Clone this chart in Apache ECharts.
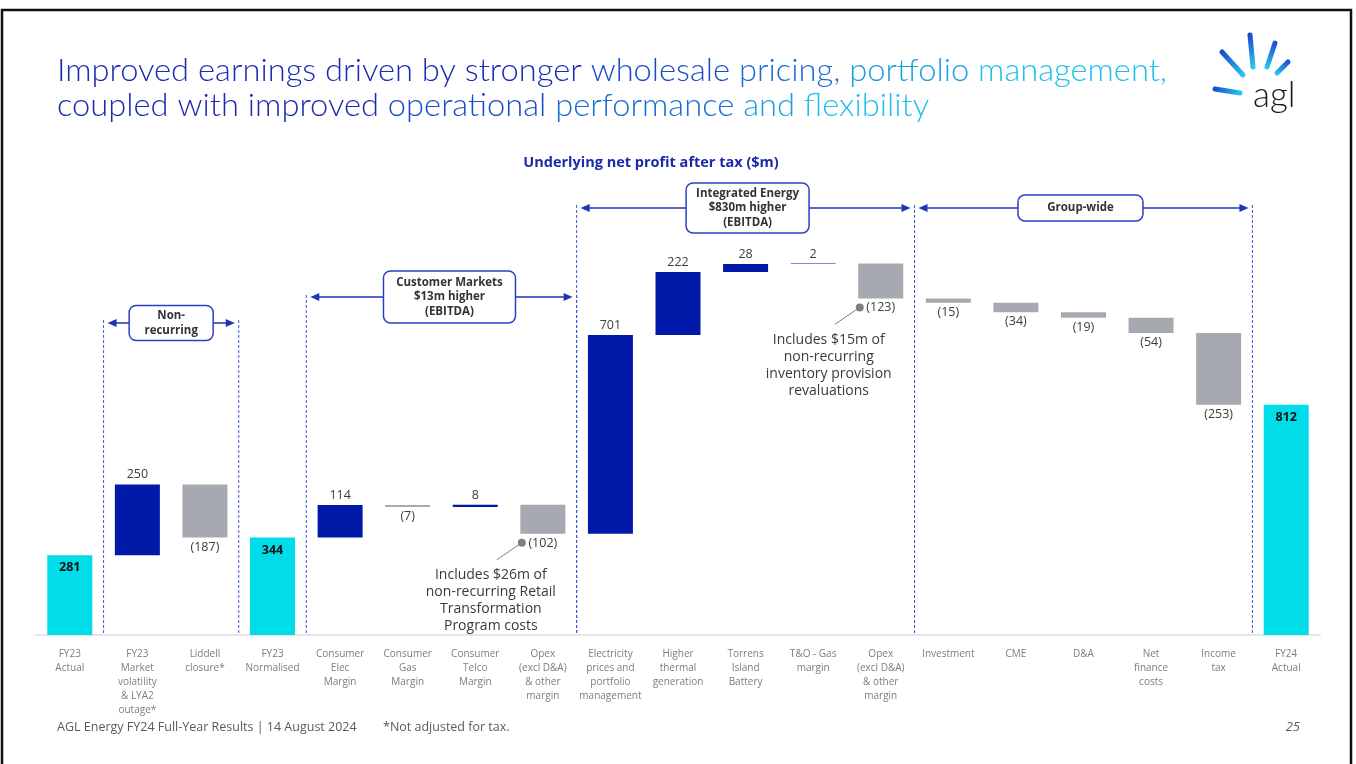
<!DOCTYPE html>
<html>
<head>
<meta charset="utf-8">
<title>AGL underlying NPAT waterfall</title>
<script src="https://cdn.jsdelivr.net/npm/echarts@6/dist/echarts.min.js"></script>
<style>
  html, body { margin: 0; padding: 0; background: #fff; }
  #chart { width: 1356px; height: 764px; }
</style>
</head>
<body>
<div id="chart"></div>
<script>
// categories along the x axis
const categories = [
  "FY23\nActual",
  "FY23\nMarket\nvolatility\n& LYA2\noutage*",
  "Liddell\nclosure*",
  "FY23\nNormalised",
  "Consumer\nElec\nMargin",
  "Consumer\nGas\nMargin",
  "Consumer\nTelco\nMargin",
  "Opex\n(excl D&A)\n& other\nmargin",
  "Electricity\nprices and\nportfolio\nmanagement",
  "Higher\nthermal\ngeneration",
  "Torrens\nIsland\nBattery",
  "T&O - Gas\nmargin",
  "Opex\n(excl D&A)\n& other\nmargin",
  "Investment",
  "CME",
  "D&A",
  "Net\nfinance\ncosts",
  "Income\ntax",
  "FY24\nActual"
];
// $m movements (totals are full bars)
const values = [281, 250, -187, 344, 114, -7, 8, -102, 701, 222, 28, 2, -123, -15, -34, -19, -54, -253, 812];
const totalIdx = [0, 3, 18];

// groups above the bars: [first category, last category, label]
const groups = [
  [1, 2, "Non-\nrecurring"],
  [4, 7, "Customer Markets\n$13m higher\n(EBITDA)"],
  [8, 12, "Integrated Energy\n$830m higher\n(EBITDA)"],
  [13, 17, "Group-wide"]
];
// callouts hanging off a bar
const notes = [
  [7, "Includes $26m of\nnon-recurring Retail\nTransformation\nProgram costs"],
  [12, "Includes $15m of\nnon-recurring\ninventory provision\nrevaluations"]
];

const TOTAL = "#00dce8", UP = "#0019a8", DOWN = "#a7a9b0";
const FONT = "'Open Sans', 'DejaVu Sans', sans-serif";

// waterfall: invisible base + visible piece
const base = [], piece = [];
let running = 0;
values.forEach((v, i) => {
  const isTotal = totalIdx.indexOf(i) >= 0;
  let b, h, color, label;
  if (isTotal) {
    b = 0; h = v; running = v; color = TOTAL;
    label = { position: "insideTop", distance: 6, fontWeight: "bold", color: "#111", formatter: String(v) };
  } else if (v >= 0) {
    b = running; h = v; running += v; color = UP;
    label = { position: "top", distance: 3, formatter: String(v) };
  } else {
    b = running + v; h = -v; running += v; color = DOWN;
    label = { position: "bottom", distance: 3, formatter: "(" + (-v) + ")" };
  }
  base.push(b);
  piece.push({ value: h, itemStyle: { color: color }, label: label });
});

const chart = echarts.init(document.getElementById("chart"));

chart.setOption({
  backgroundColor: "#fff",
  animation: false,
  grid: { left: 36, right: 36, top: 238, bottom: 129 },
  xAxis: {
    type: "category",
    data: categories,
    axisTick: { show: false },
    axisLine: { lineStyle: { color: "#e6e6e6", width: 2 } },
    axisLabel: {
      interval: 0,
      margin: 12,
      fontFamily: FONT,
      fontSize: 10,
      lineHeight: 14,
      color: "#7d7d7d"
    }
  },
  yAxis: { type: "value", min: 0, max: 1400, show: false, splitLine: { show: false } },
  series: [
    {
      type: "bar",
      stack: "w",
      barWidth: 45,
      itemStyle: { color: "transparent" },
      emphasis: { disabled: true },
      data: base
    },
    {
      type: "bar",
      stack: "w",
      barWidth: 45,
      label: { show: true, fontFamily: FONT, fontSize: 12.5, color: "#3c3c3c" },
      emphasis: { disabled: true },
      data: piece
    }
  ]
});

// ---- annotations, placed from the axes ----
const px = i => chart.convertToPixel({ xAxisIndex: 0 }, i);
const py = v => chart.convertToPixel({ yAxisIndex: 0 }, v);
const edge = i => (px(i) + px(i + 1)) / 2;
const y0 = py(0);

const BLUE = "#1e34b6", DASH = "#3a55dd";
const g = [];

// slide frame
g.push({ type: "rect", shape: { x: 2, y: 10, width: 1349, height: 770 }, style: { fill: null, stroke: "#111", lineWidth: 2.5 }, silent: true });

// title: coloured word runs, measured and squeezed to the reference width
const TFAM = "Lato, 'Open Sans', sans-serif";
const titleFont = "300 31px " + TFAM;
const title1 = [["Improved earnings driven by stronger ", "c0"], ["wholesale ", "c1"], ["pricing, ", "c2"], ["portfolio ", "c3"], ["management,", "c4"]];
const title2 = [["coupled with improved ", "c0"], ["operational ", "c1"], ["performance ", "c2"], ["and ", "c3"], ["flexibility", "c4"]];
const tColors = { c0: "#1a2bb0", c1: "#1a4cc6", c2: "#1a6cd2", c3: "#1a9ede", c4: "#1fc0ea" };
const rich = {};
Object.keys(tColors).forEach(k => { rich[k] = { fontFamily: TFAM, fontWeight: 300, fontSize: 31, fill: tColors[k] }; });
const ctx = document.createElement("canvas").getContext("2d");
ctx.font = titleFont;
const sx = 1110 / ctx.measureText(title1.map(s => s[0]).join("")).width;
[[title1, 71], [title2, 106]].forEach(([segs, y]) => {
  g.push({
    type: "text", x: 57, y: y, scaleX: sx, silent: true,
    style: { text: segs.map(s => "{" + s[1] + "|" + s[0] + "}").join(""), rich: rich, verticalAlign: "middle", align: "left" }
  });
});

// logo
const rays = [
  [[1215, 89], [1240, 93]],
  [[1222, 52], [1243, 75]],
  [[1250, 35], [1253, 67]],
  [[1275, 43], [1267, 67]],
  [[1288, 62], [1277, 73]]
];
rays.forEach(([o, n]) => {
  const gx1 = o[0] <= n[0] ? 0 : 1, gx2 = 1 - gx1;
  const gy1 = o[1] <= n[1] ? 0 : 1, gy2 = 1 - gy1;
  g.push({
    type: "line", silent: true,
    shape: { x1: o[0], y1: o[1], x2: n[0], y2: n[1] },
    style: {
      lineWidth: 5, lineCap: "round",
      stroke: new echarts.graphic.LinearGradient(gx1, gy1, gx2, gy2, [
        { offset: 0, color: "#1b3fcc" }, { offset: 1, color: "#2bd3ee" }
      ])
    }
  });
});
g.push({ type: "text", x: 1253, y: 96, silent: true,
  style: { text: "agl", font: "300 35px " + TFAM, fill: "#1a1a1a", verticalAlign: "middle" } });

// chart title
g.push({ type: "text", x: 651, y: 163, silent: true,
  style: { text: "Underlying net profit after tax ($m)", font: "bold 14.5px " + FONT, fill: "#1a2aa8", align: "center", verticalAlign: "middle" } });

// group brackets
const tops = [320, 295, 205, 205];
const arrowY = [323, 297, 208, 208];
const boxes = [[84, 35, 0], [132, 52, 8], [123, 50, 2], [125, 26, -3]];
groups.forEach(([a, b, label], k) => {
  const xl = edge(a - 1), xr = edge(b);
  [xl, xr].forEach(x => {
    g.push({ type: "line", silent: true, shape: { x1: x, y1: tops[k], x2: x, y2: y0 },
      style: { stroke: DASH, lineWidth: 1, lineDash: [3, 2] } });
  });
  const ay = arrowY[k], l = xl + 4, r = xr - 4;
  g.push({ type: "line", silent: true, shape: { x1: l + 6, y1: ay, x2: r - 6, y2: ay }, style: { stroke: BLUE, lineWidth: 1.3 } });
  g.push({ type: "polygon", silent: true, shape: { points: [[l, ay], [l + 9, ay - 4], [l + 9, ay + 4]] }, style: { fill: BLUE } });
  g.push({ type: "polygon", silent: true, shape: { points: [[r, ay], [r - 9, ay - 4], [r - 9, ay + 4]] }, style: { fill: BLUE } });
  const [w, h, off] = boxes[k];
  const cx = (xl + xr) / 2 + off;
  g.push({ type: "rect", silent: true, shape: { x: cx - w / 2, y: ay - h / 2, width: w, height: h, r: 7 },
    style: { fill: "#fff", stroke: "#2a40c4", lineWidth: 1.5 } });
  g.push({ type: "text", x: cx, y: ay, silent: true,
    style: { text: label, font: "bold 11.5px " + FONT, fill: "#333", align: "center", verticalAlign: "middle", lineHeight: 14.5 } });
});

// callouts with dot + leader
let run2 = 0;
const bottoms = values.map((v, i) => {
  if (totalIdx.indexOf(i) >= 0) { run2 = v; return 0; }
  run2 += v; return v < 0 ? run2 : run2 - v;
});
notes.forEach(([i, text]) => {
  const x = px(i), yb = py(bottoms[i]);
  const dx = x - 21, dy = yb + 9;
  g.push({ type: "line", silent: true, shape: { x1: dx, y1: dy, x2: x - 46, y2: yb + 26 }, style: { stroke: "#808080", lineWidth: 1 } });
  g.push({ type: "circle", silent: true, shape: { cx: dx, cy: dy, r: 4 }, style: { fill: "#7f7f7f" } });
  g.push({ type: "text", x: x - 52, y: yb + 33, silent: true,
    style: { text: text, font: "14px " + FONT, fill: "#3a3a3a", align: "center", verticalAlign: "top", lineHeight: 17 } });
});

// footer
g.push({ type: "text", x: 57, y: 727, silent: true,
  style: { text: "AGL Energy FY24 Full-Year Results | 14 August 2024", font: "12.5px " + FONT, fill: "#5a5a5a", verticalAlign: "middle" } });
g.push({ type: "text", x: 383, y: 727, silent: true,
  style: { text: "*Not adjusted for tax.", font: "12.5px " + FONT, fill: "#5a5a5a", verticalAlign: "middle" } });
g.push({ type: "text", x: 1300, y: 727, silent: true,
  style: { text: "25", font: "italic 13px " + FONT, fill: "#5a5a5a", align: "right", verticalAlign: "middle" } });

chart.setOption({ graphic: { elements: g } });
</script>
</body>
</html>
